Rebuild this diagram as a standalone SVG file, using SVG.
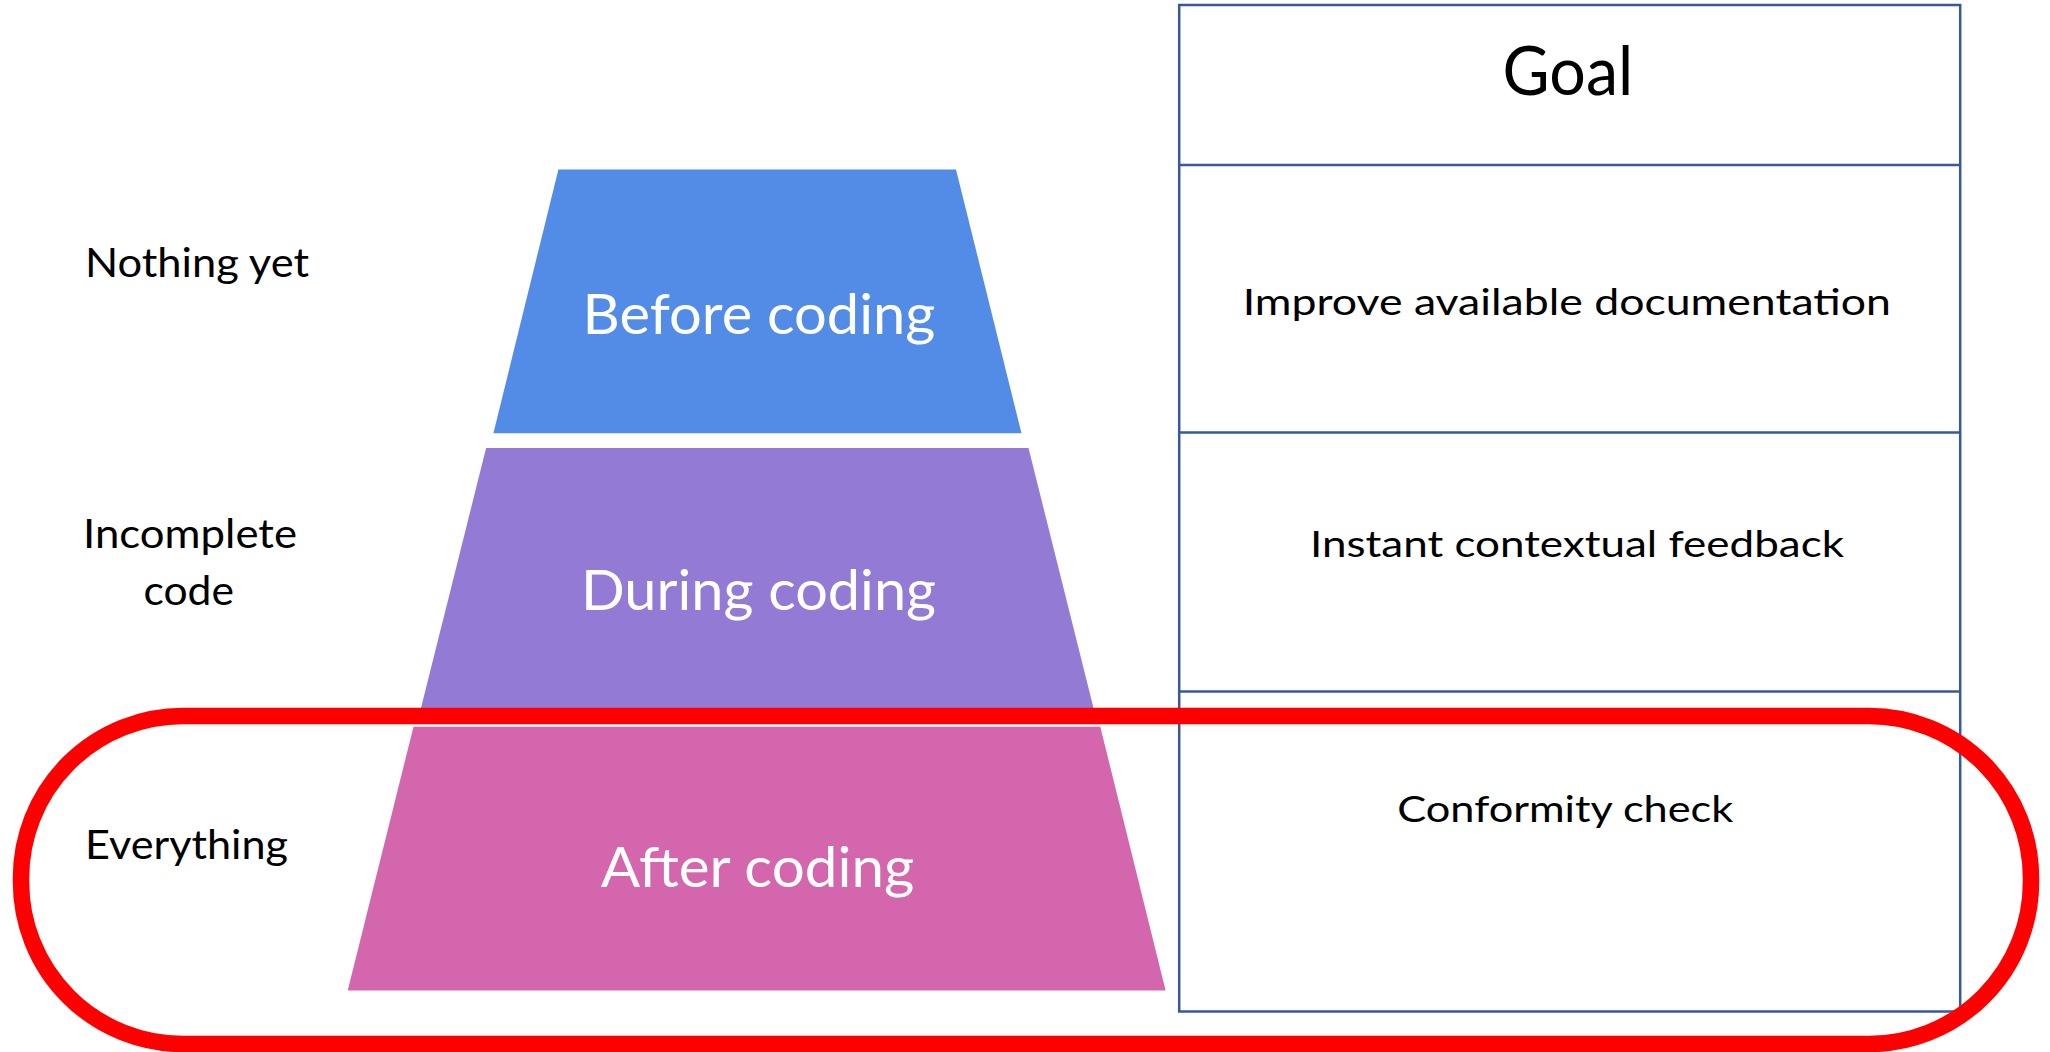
<svg xmlns="http://www.w3.org/2000/svg" width="2050" height="1052" viewBox="0 0 2050 1052">
  <style>
    .lbl { font-family: Lato, "Open Sans", "Liberation Sans", sans-serif; fill: #000000; }
    .stage { font-family: Lato, "Open Sans", "Liberation Sans", sans-serif; fill: #ffffff; font-size: 56px; }
    .side { font-size: 41px; }
    .cell { font-size: 37.5px; }
    .grid { fill: none; stroke: #365a98; stroke-width: 2.5; }
  </style>
  <rect x="0" y="0" width="2050" height="1052" fill="#ffffff"/>

  <!-- Left-hand state labels -->
  <g id="label-nothing-yet">
    <text class="lbl side" x="85" y="277" textLength="224" lengthAdjust="spacingAndGlyphs">Nothing yet</text>
  </g>
  <g id="label-incomplete-code">
    <text class="lbl side" x="83" y="548" textLength="214" lengthAdjust="spacingAndGlyphs">Incomplete</text>
    <text class="lbl side" x="143.5" y="605" textLength="90.5" lengthAdjust="spacingAndGlyphs">code</text>
  </g>
  <g id="label-everything">
    <text class="lbl side" x="85" y="859" textLength="203" lengthAdjust="spacingAndGlyphs">Everything</text>
  </g>

  <!-- Pyramid stages -->
  <g id="stage-before">
    <polygon points="558.4,169.5 956,169.5 1021.5,433.3 493.4,433.3" fill="#528ce6"/>
    <text class="stage" x="582.6" y="333.5" textLength="352.8" lengthAdjust="spacingAndGlyphs">Before coding</text>
  </g>
  <g id="stage-during">
    <polygon points="486.1,448 1028.5,448 1094.5,712 420,712" fill="#937ad4"/>
    <text class="stage" x="581" y="610" textLength="355" lengthAdjust="spacingAndGlyphs">During coding</text>
  </g>
  <g id="stage-after">
    <polygon points="413.5,726.7 1100.3,726.7 1165.6,990.6 347.7,990.6" fill="#d466ae"/>
    <text class="stage" x="600.7" y="886.7" textLength="313.6" lengthAdjust="spacingAndGlyphs">After coding</text>
  </g>

  <!-- Goal table -->
  <g id="goal-table">
    <rect class="grid" x="1179.2" y="5" width="781" height="1006.5"/>
    <line class="grid" x1="1179.2" y1="165" x2="1960.2" y2="165"/>
    <line class="grid" x1="1179.2" y1="432.6" x2="1960.2" y2="432.6"/>
    <line class="grid" x1="1179.2" y1="691.5" x2="1960.2" y2="691.5"/>
  </g>
  <g id="goal-header">
    <text class="lbl" x="1502.6" y="95" font-size="67.5px" textLength="130.7" lengthAdjust="spacingAndGlyphs">Goal</text>
  </g>
  <g id="goal-before">
    <text class="lbl cell" x="1242.7" y="315" textLength="648.3" lengthAdjust="spacingAndGlyphs">Improve available documentation</text>
  </g>
  <g id="goal-during">
    <text class="lbl cell" x="1310" y="556.7" textLength="534" lengthAdjust="spacingAndGlyphs">Instant contextual feedback</text>
  </g>
  <g id="goal-after">
    <text class="lbl cell" x="1397.3" y="821.7" textLength="336" lengthAdjust="spacingAndGlyphs">Conformity check</text>
  </g>

  <!-- Highlight ring around the after-coding row -->
  <g id="highlight">
    <rect x="21" y="716" width="2010" height="328" rx="162" ry="162" fill="none" stroke="#ff0000" stroke-width="16.5"/>
  </g>
</svg>
